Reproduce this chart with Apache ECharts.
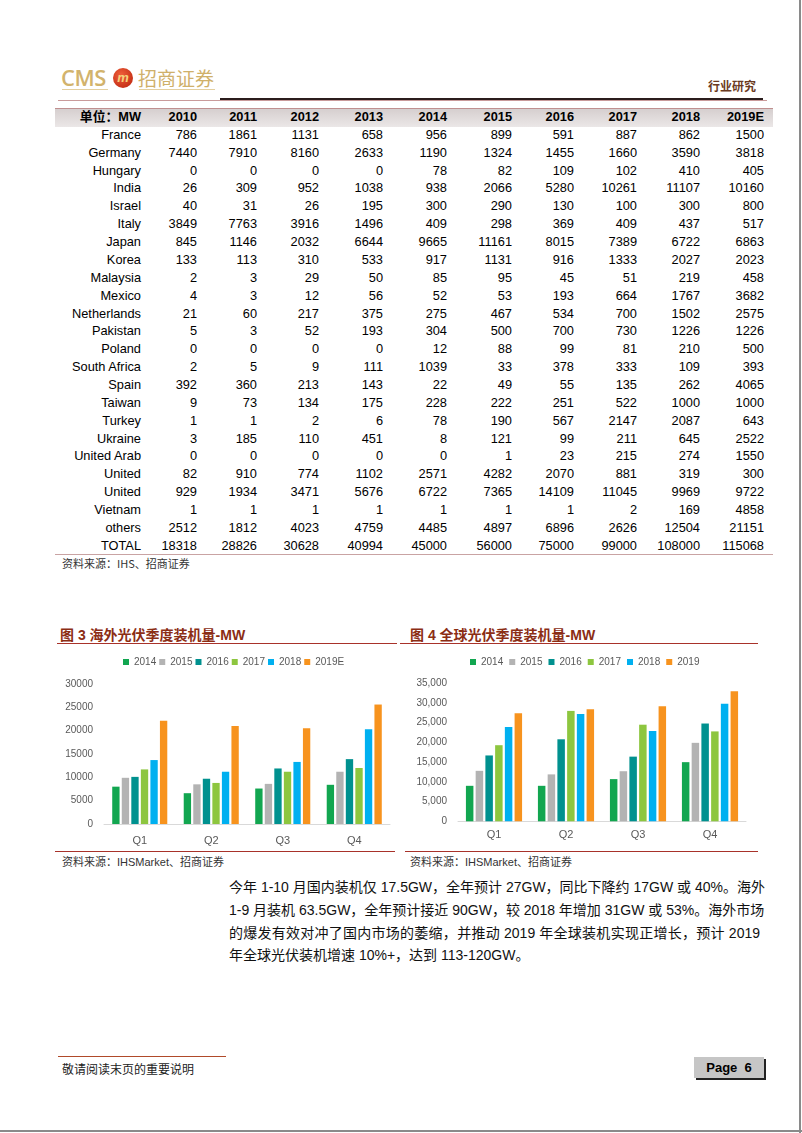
<!DOCTYPE html>
<html><head><meta charset="utf-8">
<script src="https://cdn.jsdelivr.net/npm/echarts@6/dist/echarts.min.js"></script>
<style>
html,body{margin:0;padding:0;background:#fff;}
#page{position:relative;width:802px;height:1133px;overflow:hidden;font-family:"Liberation Sans",Arial,"Noto Sans CJK SC",sans-serif;color:#000;}
.abs{position:absolute;white-space:nowrap;}
.cjk{font-family:"Liberation Sans","Noto Sans CJK SC",sans-serif;}
.cell{position:absolute;font-size:12.8px;line-height:18px;text-align:right;white-space:nowrap;}
.para{position:absolute;left:229px;width:531px;font-size:14px;line-height:20px;text-align:justify;text-align-last:justify;font-family:"Liberation Sans","Noto Sans CJK SC",sans-serif;color:#111;white-space:nowrap;}
</style></head>
<body><div id="page">
  <!-- header -->
  <div class="abs" style="left:61px;top:62px;font-size:22px;color:#d2b36c;font-family:'Open Sans','Liberation Sans',sans-serif;font-weight:600;letter-spacing:-0.5px;">CMS</div>
  <div class="abs" style="left:113px;top:68px;width:20px;height:20px;border-radius:50%;background:radial-gradient(circle at 40% 35%,#f0603a,#b8200c);color:#f5d27a;font-size:13px;font-weight:bold;font-style:italic;text-align:center;line-height:19px;">m</div>
  <div class="abs cjk" style="left:138px;top:64px;font-size:19px;color:#cfb06a;font-family:'Noto Sans CJK SC',sans-serif;">招商证券</div>
  <div class="abs" style="left:62px;top:89px;width:46px;height:1px;background:#e3cf9f;"></div>
  <div class="abs" style="left:139px;top:89px;width:76px;height:1px;background:#e3cf9f;"></div>
  <div class="abs cjk" style="left:708px;top:77px;font-size:12px;color:#6b3a22;font-family:'Noto Sans CJK SC',sans-serif;font-weight:bold;">行业研究</div>
  <div class="abs" style="left:220px;top:98px;width:543px;height:2px;background:#2b1d1d;"></div>
  <div class="abs" style="left:58px;top:100px;width:709px;height:1px;background:#c99a9a;"></div>

  <!-- table -->
  <div class="abs" style="left:55px;top:108px;width:718px;height:1px;background:#c08f8f;"></div>
  <div class="abs" style="left:55px;top:109px;width:718px;height:18px;background:linear-gradient(#d6cfcf,#ebe7e7);"></div>
  <div id="tbl"></div>
  <div class="abs" style="left:55px;top:554px;width:718px;height:1px;background:#c9a3a3;"></div>
  <div class="abs cjk" style="left:62px;top:555px;font-size:11px;color:#333;font-family:'Noto Sans CJK SC',sans-serif;">资料来源：IHS、招商证券</div>

  <!-- chart titles -->
  <div class="abs cjk" style="left:60px;top:624px;font-size:14px;font-weight:bold;color:#8b2d14;">图 3&nbsp;海外光伏季度装机量-MW</div>
  <div class="abs" style="left:57px;top:643px;width:340px;height:1px;background:#a8322a;"></div>
  <div class="abs cjk" style="left:410px;top:624px;font-size:14px;font-weight:bold;color:#8b2d14;">图 4&nbsp;全球光伏季度装机量-MW</div>
  <div class="abs" style="left:400px;top:643px;width:358px;height:1px;background:#a8322a;"></div>

  <div id="c3" class="abs" style="left:55px;top:650px;width:345px;height:200px;"></div>
  <div id="c4" class="abs" style="left:405px;top:650px;width:355px;height:200px;"></div>

  <div class="abs" style="left:55px;top:851px;width:340px;height:1px;background:#a8322a;"></div>
  <div class="abs" style="left:405px;top:851px;width:353px;height:1px;background:#a8322a;"></div>
  <div class="abs cjk" style="left:62px;top:853px;font-size:11px;color:#333;">资料来源：IHSMarket、招商证券</div>
  <div class="abs cjk" style="left:410px;top:853px;font-size:11px;color:#333;">资料来源：IHSMarket、招商证券</div>

  <!-- paragraph -->
  <div class="para" style="top:877px;">今年 1-10 月国内装机仅 17.5GW，全年预计 27GW，同比下降约 17GW 或 40%。海外</div>
  <div class="para" style="top:900px;">1-9 月装机 63.5GW，全年预计接近 90GW，较 2018 年增加 31GW 或 53%。海外市场</div>
  <div class="para" style="top:923px;">的爆发有效对冲了国内市场的萎缩，并推动 2019 年全球装机实现正增长，预计 2019</div>
  <div class="para" style="top:945px;text-align-last:left;width:auto;">年全球光伏装机增速 10%+，达到 113-120GW。</div>

  <!-- footer -->
  <div class="abs" style="left:58px;top:1056px;width:168px;height:1px;background:#b04a2a;"></div>
  <div class="abs cjk" style="left:62px;top:1060px;font-size:12px;color:#222;">敬请阅读末页的重要说明</div>
  <div class="abs" style="left:694px;top:1057px;width:70px;height:21px;background:#c6c6c6;box-shadow:2px 2px 0 #222;font-weight:bold;font-size:13px;line-height:21px;text-align:center;">Page&nbsp;&nbsp;6</div>
  <div class="abs" style="left:799px;top:0px;width:2px;height:1133px;background:#8a8a8a;"></div>
  <div class="abs" style="left:0px;top:1130px;width:802px;height:2px;background:#8a8a8a;"></div>
</div>
<script>
// ---------- table data ----------
const tableHeader = ["单位：MW","2010","2011","2012","2013","2014","2015","2016","2017","2018","2019E"];
const countries = ["France","Germany","Hungary","India","Israel","Italy","Japan","Korea","Malaysia","Mexico","Netherlands","Pakistan","Poland","South Africa","Spain","Taiwan","Turkey","Ukraine","United Arab","United","United","Vietnam","others","TOTAL"];
const c2010 = [786,7440,0,26,40,3849,845,133,2,4,21,5,0,2,392,9,1,3,0,82,929,1,2512,18318];
const c2011 = [1861,7910,0,309,31,7763,1146,113,3,3,60,3,0,5,360,73,1,185,0,910,1934,1,1812,28826];
const c2012 = [1131,8160,0,952,26,3916,2032,310,29,12,217,52,0,9,213,134,2,110,0,774,3471,1,4023,30628];
const c2013 = [658,2633,0,1038,195,1496,6644,533,50,56,375,193,0,111,143,175,6,451,0,1102,5676,1,4759,40994];
const c2014 = [956,1190,78,938,300,409,9665,917,85,52,275,304,12,1039,22,228,78,8,0,2571,6722,1,4485,45000];
const c2015 = [899,1324,82,2066,290,298,11161,1131,95,53,467,500,88,33,49,222,190,121,1,4282,7365,1,4897,56000];
const c2016 = [591,1455,109,5280,130,369,8015,916,45,193,534,700,99,378,55,251,567,99,23,2070,14109,1,6896,75000];
const c2017 = [887,1660,102,10261,100,409,7389,1333,51,664,700,730,81,333,135,522,2147,211,215,881,11045,2,2626,99000];
const c2018 = [862,3590,410,11107,300,437,6722,2027,219,1767,1502,1226,210,109,262,1000,2087,645,274,319,9969,169,12504,108000];
const c2019E = [1500,3818,405,10160,800,517,6863,2023,458,3682,2575,1226,500,393,4065,1000,643,2522,1550,300,9722,4858,21151,115068];

// ---------- chart data ----------
const quarters = ["Q1","Q2","Q3","Q4"];
const overseasYears = ["2014","2015","2016","2017","2018","2019E"];
const ov2014 = [8000,6600,7600,8400];
const ov2015 = [9900,8500,8600,11200];
const ov2016 = [10100,9700,11900,13900];
const ov2017 = [11700,8800,11200,12000];
const ov2018 = [13700,11200,13300,20300];
const ov2019E = [22100,21000,20500,25600];
const globalYears = ["2014","2015","2016","2017","2018","2019"];
const gl2014 = [9000,9000,10700,15000];
const gl2015 = [12800,11900,12700,19900];
const gl2016 = [16700,20800,16400,24800];
const gl2017 = [19300,28000,24500,22800];
const gl2018 = [23900,27200,22900,29800];
const gl2019 = [27400,28400,29200,33000];
const yearColors = ["#12a650","#b3b3b3","#00918f","#8dc63f","#00b0f0","#f7931e"];

// ---------- build table ----------
(function(){
  const cols = [c2010,c2011,c2012,c2013,c2014,c2015,c2016,c2017,c2018,c2019E];
  const rightEdges = [141,197,257,319,383,447,512,574,637,700,764];
  const tbl = document.getElementById('tbl');
  function put(text, edge, top, bold){
    const s = document.createElement('div');
    s.className = 'cell' + (/[^\x00-\x7f]/.test(text) ? ' cjk' : '');
    s.style.right = (802 - edge) + 'px';
    s.style.top = top + 'px';
    if (bold) s.style.fontWeight = 'bold';
    s.textContent = text;
    tbl.appendChild(s);
  }
  tableHeader.forEach((h,i)=>put(h, rightEdges[i], 108, true));
  const y0 = 125.8, step = 17.87;
  countries.forEach((c,r)=>{
    const top = y0 + r*step;
    put(c, rightEdges[0], top, false);
    cols.forEach((col,k)=>put(String(col[r]), rightEdges[k+1], top, false));
  });
})();

// ---------- charts ----------
function makeChart(id, years, seriesData, max, grid, legendLeft, legendGap, comma, labelMargin, catGap){
  const ch = echarts.init(document.getElementById(id), null, {renderer:'canvas'});
  ch.setOption({
    animation:false,
    color: yearColors,
    legend:{
      data: years, left: legendLeft, top: 2, icon:'rect', itemWidth:6, itemHeight:6, itemGap:legendGap,
      textStyle:{fontSize:10, color:'#595959', fontFamily:'Liberation Sans, Arial'}
    },
    grid: grid,
    xAxis:{
      type:'category', data: quarters,
      axisLine:{lineStyle:{color:'#d9d9d9'}}, axisTick:{show:false},
      axisLabel:{fontSize:11, color:'#595959', margin:labelMargin, fontFamily:'Liberation Sans, Arial'}
    },
    yAxis:{
      type:'value', min:0, max:max, interval:5000,
      axisLine:{show:false}, axisTick:{show:false}, splitLine:{show:false},
      axisLabel:{fontSize:10, color:'#595959', margin:11, fontFamily:'Liberation Sans, Arial',
        formatter: v => comma ? v.toLocaleString('en-US') : String(v)}
    },
    series: years.map((y,i)=>({
      name:y, type:'bar', data: seriesData[i], barGap:'30%', barCategoryGap:catGap
    }))
  });
}
makeChart('c3', overseasYears, [ov2014,ov2015,ov2016,ov2017,ov2018,ov2019E], 30000,
  {left:49, right:10, top:34, bottom:26}, 63, 3, false, 11, '23%');
makeChart('c4', globalYears, [gl2014,gl2015,gl2016,gl2017,gl2018,gl2019], 35000,
  {left:53, right:14, top:33.3, bottom:28.7}, 60, 6, true, 8, '22%');
</script>
</body></html>
